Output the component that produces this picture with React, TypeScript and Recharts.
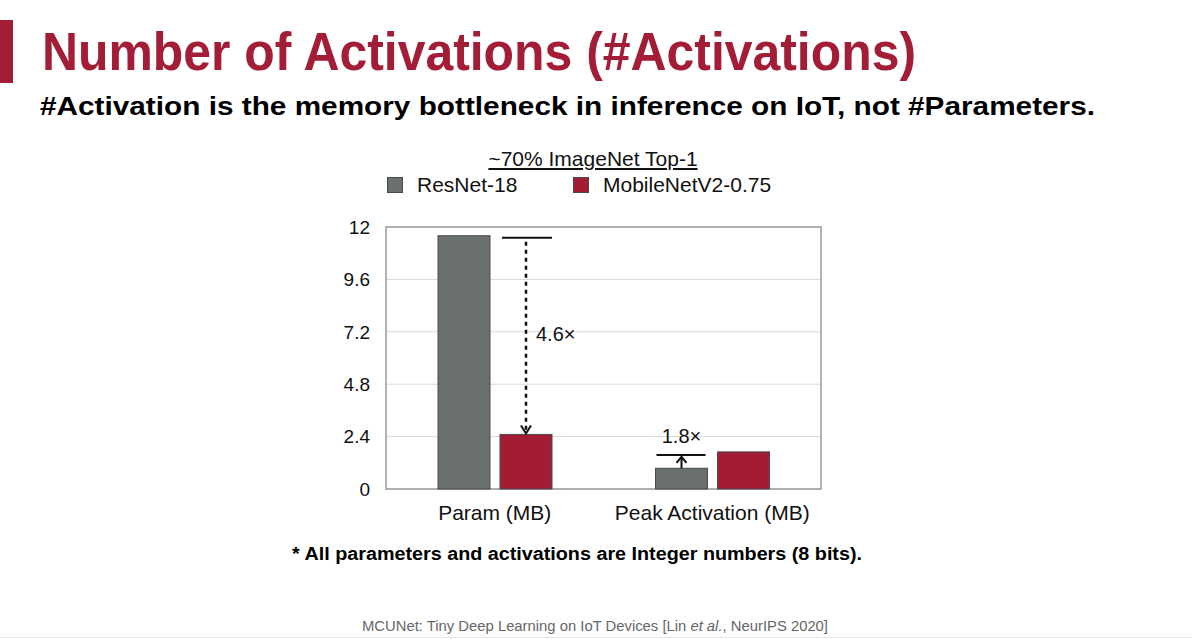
import React from "react";
import { BarChart, Bar, XAxis, YAxis, CartesianGrid, ReferenceArea, Legend } from "recharts";

const categories = ["Param (MB)", "Peak Activation (MB)"];
const resnetValues = [11.6, 0.95];
const mobilenetValues = [2.5, 1.7];
const ratioLabels = ["4.6×", "1.8×"];
const yTicks = [0, 2.4, 4.8, 7.2, 9.6, 12];
const seriesNames = ["ResNet-18", "MobileNetV2-0.75"];
const seriesColors = ["#6a706c", "#a21c34"];
const legendTitle = "~70% ImageNet Top-1";

const data = categories.map((c, i) => ({
  name: c,
  resnet: resnetValues[i],
  mobilenet: mobilenetValues[i],
  ratio: ratioLabels[i],
}));

const FONT = '"Liberation Sans", Arial, Helvetica, sans-serif';
const RED = "#a31d36";

function makeShape(seriesKey: "resnet" | "mobilenet") {
  return (props: any) => {
    const { x, y, width, height, fill, payload } = props;
    const own = payload[seriesKey];
    const otherKey = seriesKey === "resnet" ? "mobilenet" : "resnet";
    const other = payload[otherKey];
    const baseline = y + height;
    const perUnit = own > 0 ? height / own : 0;
    const yOther = baseline - other * perUnit;
    const cx = x + width / 2;
    const els: any[] = [
      <rect key="r" x={x} y={y} width={width} height={height} fill={fill} stroke="#4b4b4b" strokeWidth={1} />,
    ];
    if (own < other) {
      if (seriesKey === "mobilenet") {
        const lineY = yOther + 2;
        els.push(
          <line key="l" x1={x + 2} x2={x + width} y1={lineY} y2={lineY} stroke="#111" strokeWidth={2} />,
          <line key="d" x1={cx} x2={cx} y1={lineY + 4} y2={y - 2} stroke="#111" strokeWidth={2.5} strokeDasharray="4 4" />,
          <polyline key="a" points={`${cx - 5},${y - 9} ${cx},${y - 1} ${cx + 5},${y - 9}`} fill="none" stroke="#111" strokeWidth={2} />,
          <text key="t" x={cx + 10} y={(lineY + y) / 2} dominantBaseline="middle" fontSize={20} fontFamily={FONT} fill="#111">
            {payload.ratio}
          </text>
        );
      } else {
        const lineY = yOther + 3;
        els.push(
          <line key="l" x1={x + 1} x2={x + width - 2} y1={lineY} y2={lineY} stroke="#111" strokeWidth={2} />,
          <line key="d" x1={cx} x2={cx} y1={y} y2={lineY + 2} stroke="#111" strokeWidth={2} />,
          <polyline key="a" points={`${cx - 5},${lineY + 8} ${cx},${lineY + 2} ${cx + 5},${lineY + 8}`} fill="none" stroke="#111" strokeWidth={2} />,
          <text key="t" x={cx} y={lineY - 17} textAnchor="middle" dominantBaseline="middle" fontSize={20} fontFamily={FONT} fill="#111">
            {payload.ratio}
          </text>
        );
      }
    }
    return <g>{els}</g>;
  };
}

const LegendContent = () => (
  <div style={{ position: "relative", width: 540, height: 87, fontFamily: FONT, color: "#111" }}>
    <div
      style={{
        position: "absolute",
        left: 163,
        width: 260,
        top: 6,
        textAlign: "center",
        fontSize: 21,
        lineHeight: "26px",
        textDecoration: "underline",
        whiteSpace: "nowrap",
      }}
    >
      {legendTitle}
    </div>
    {seriesNames.map((n, i) => (
      <div key={n} style={{ position: "absolute", left: i === 0 ? 87 : 273, top: 33, height: 24, display: "flex", alignItems: "center", whiteSpace: "nowrap" }}>
        <span style={{ display: "inline-block", width: 16, height: 16, background: seriesColors[i], border: "1px solid #4b4b4b", boxSizing: "border-box", marginRight: 14 }} />
        <span style={{ fontSize: 21 }}>{n}</span>
      </div>
    ))}
  </div>
);

export default function App() {
  return (
    <div style={{ position: "absolute", left: 0, top: 0, width: 1192, height: 639, background: "#fff", overflow: "hidden" }}>
      <svg width={1192} height={639} style={{ position: "absolute", left: 0, top: 0 }}>
        <rect x={0} y={20} width={13} height={63} fill={RED} />
        <text x={42} y={70} fontSize={53} fontWeight="bold" fontFamily={FONT} fill={RED} textLength={874} lengthAdjust="spacingAndGlyphs">
          Number of Activations (#Activations)
        </text>
        <text x={40} y={115} fontSize={26} fontWeight="bold" fontFamily={FONT} fill="#000" textLength={1055} lengthAdjust="spacingAndGlyphs">
          #Activation is the memory bottleneck in inference on IoT, not #Parameters.
        </text>
        <text x={292} y={560} fontSize={18} fontWeight="bold" fontFamily={FONT} fill="#000" textLength={570} lengthAdjust="spacingAndGlyphs">
          * All parameters and activations are Integer numbers (8 bits).
        </text>
        <text x={362} y={631} fontSize={14} fontFamily={FONT} fill="#666" textLength={466} lengthAdjust="spacingAndGlyphs">
          MCUNet: Tiny Deep Learning on IoT Devices [Lin <tspan fontStyle="italic">et al.</tspan>, NeurIPS 2020]
        </text>
        <line x1={0} x2={1192} y1={637.5} y2={637.5} stroke="#e6e6e6" strokeWidth={1} />
      </svg>
      <div style={{ position: "absolute", left: 300, top: 130 }}>
        <BarChart
          width={540}
          height={420}
          data={data}
          margin={{ top: 10, right: 19, bottom: 21, left: 0 }}
          barSize={52}
          barGap={10}
          style={{ fontFamily: FONT }}
        >
          <Legend verticalAlign="top" height={87} content={<LegendContent />} wrapperStyle={{ left: 0, top: 10, width: 540, height: 87 }} />
          <CartesianGrid vertical={false} stroke="#d9d9d9" strokeWidth={1} />
          <XAxis
            dataKey="name"
            axisLine={false}
            tickLine={false}
            tickSize={0}
            tickMargin={16}
            height={40}
            interval={0}
            tick={{ fontSize: 21, fill: "#111", fontFamily: FONT }}
          />
          <YAxis
            domain={[0, 12]}
            ticks={yTicks}
            axisLine={false}
            tickLine={false}
            tickSize={0}
            tickMargin={16}
            width={86}
            tickFormatter={(v: number) => String(v)}
            tick={{ fontSize: 19, fill: "#111", fontFamily: FONT }}
          />
          <ReferenceArea y1={0} y2={12} fill="none" stroke="#9a9a9a" strokeWidth={1.5} ifOverflow="visible" />
          <Bar dataKey="resnet" name={seriesNames[0]} fill={seriesColors[0]} isAnimationActive={false} shape={makeShape("resnet")} />
          <Bar dataKey="mobilenet" name={seriesNames[1]} fill={seriesColors[1]} isAnimationActive={false} shape={makeShape("mobilenet")} />
        </BarChart>
      </div>
    </div>
  );
}
